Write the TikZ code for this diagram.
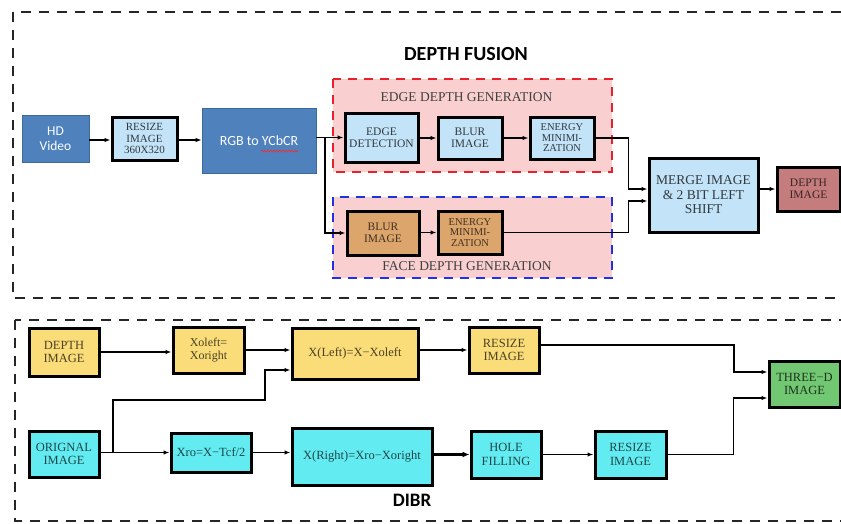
\documentclass[tikz,border=0pt]{standalone}
\usepackage{fontspec}
\setmainfont{Liberation Serif}
\newfontfamily\calfont{Carlito}
\usetikzlibrary{arrows.meta,calc,decorations.pathmorphing}
\definecolor{steel}{HTML}{4F81BD}
\definecolor{steeld}{HTML}{3D6A9E}
\definecolor{lblue}{HTML}{C3E4F8}
\definecolor{pinkbg}{HTML}{F9CFCF}
\definecolor{tan}{HTML}{DBA56C}
\definecolor{rosy}{HTML}{C47C7C}
\definecolor{yel}{HTML}{FADC78}
\definecolor{cyanb}{HTML}{62ECF2}
\definecolor{grn}{HTML}{72C872}
\definecolor{redd}{HTML}{E8202A}
\definecolor{blued}{HTML}{2230E0}
\tikzset{
  x=1pt, y=-1pt,
  boxbase/.style={draw=black, line width=3pt, rectangle, inner sep=1pt, align=center,
    font=\fontsize{11.5}{12}\selectfont},
  sbox/.style={draw=steeld, line width=0.8pt, fill=steel, text=white, align=center,
    font=\calfont\fontsize{13.5}{15}\selectfont, inner sep=1pt},
  lb/.style={boxbase, fill=lblue, text=lblue!25!black},
  tn/.style={boxbase, fill=tan, text=tan!30!black},
  rs/.style={boxbase, fill=rosy, text=rosy!30!black},
  yb/.style={boxbase, fill=yel, text=yel!30!black},
  cb/.style={boxbase, fill=cyanb, text=cyanb!30!black},
  gb/.style={boxbase, fill=grn, text=grn!25!black},
  arr/.style={line width=1.9pt, -{Latex[length=6pt,width=4.5pt]}},
  outer/.style={draw=black!85, line width=2.8pt, dash pattern=on 10pt off 8pt},
  grp/.style={line width=2.8pt, dash pattern=on 9pt off 7pt, fill=pinkbg},
  grptitle/.style={font=\fontsize{13.5}{14}\selectfont, text=black!75},
}
\begin{document}
\begin{tikzpicture}
\useasboundingbox (0,0) rectangle (841,523);
\clip (0,0) rectangle (841,523);
% outer dashed frames
\draw[outer] (13,12) rectangle (870,298);
\draw[outer] (15,320) rectangle (870,521);
\node[font=\calfont\bfseries\fontsize{20}{20}\selectfont] (t1) at (466,54) {DEPTH FUSION};
\node[font=\calfont\bfseries\fontsize{19}{19}\selectfont] (t2) at (412,500) {DIBR};
% group boxes
\draw[grp, draw=redd] (333,79) rectangle (612,172);
\draw[grp, draw=blued] (333,197) rectangle (612,278);
\node[grptitle] (g1) at (466.5,97) {EDGE DEPTH GENERATION};
\node[grptitle] (g2) at (467,266) {FACE DEPTH GENERATION};
% top nodes
\node[sbox, minimum width=67pt, minimum height=47pt] (hd) at (55.5,138.5) {HD\\Video};
\node[lb, minimum width=65pt, minimum height=43pt, font=\fontsize{11}{11.5}\selectfont] (rsz) at (144.5,138.5) {RESIZE\\IMAGE\\360X320};
\node[sbox, minimum width=114pt, minimum height=65pt, font=\calfont\fontsize{14}{15}\selectfont] (rgb) at (259,140.5) {RGB to YCbCR};
\draw[red!85, line width=0.6pt, decorate, decoration={snake, amplitude=0.9pt, segment length=3pt}]
  (261,151) -- (298,151);
\node[lb, minimum width=73pt, minimum height=49pt] (ed) at (381.5,137.5) {EDGE\\DETECTION};
\node[lb, minimum width=64pt, minimum height=42pt] (bl1) at (470,138) {BLUR\\IMAGE};
\node[lb, minimum width=64pt, minimum height=42pt, font=\fontsize{10.5}{10.5}\selectfont] (en1) at (562,138) {ENERGY\\MINIMI-\\ZATION};
\node[tn, minimum width=72pt, minimum height=44pt] (bl2) at (383,233) {BLUR\\IMAGE};
\node[tn, minimum width=64pt, minimum height=43pt, font=\fontsize{10.5}{10.5}\selectfont] (en2) at (470,232.5) {ENERGY\\MINIMI-\\ZATION};
\node[lb, minimum width=109pt, minimum height=74pt, font=\fontsize{13.5}{14.5}\selectfont] (mg) at (703.5,195) {MERGE IMAGE\\\& 2 BIT LEFT\\SHIFT};
\node[rs, minimum width=63pt, minimum height=44pt] (di) at (808.5,189) {DEPTH\\IMAGE};
% top connectors
\draw[arr] (hd.east |- 0,140) -- (rsz.west |- 0,140);
\draw[arr] (rsz.east |- 0,140) -- (rgb.west |- 0,140);
\draw[arr] (rgb.east |- ed.west) -- (ed.west);
\coordinate (br1) at (325,137.5);
\draw[arr] (br1) |- (bl2.west);
\draw[arr] (ed.east |- bl1.west) -- (bl1.west);
\draw[arr] (bl1.east) -- (en1.west);
\draw[arr] (en1.east) -- ++(33,0) |- ([yshift=6pt]mg.west);
\draw[arr] (en2.east) -- ++(125,0) |- ([yshift=-6pt]mg.west);
\draw[arr] (bl2.east |- en2.west) -- (en2.west);
\draw[arr] (mg.east |- di.west) -- (di.west);
% bottom nodes
\node[yb, minimum width=70pt, minimum height=48pt, font=\fontsize{12.5}{13.5}\selectfont] (dd) at (64,352) {DEPTH\\IMAGE};
\node[yb, minimum width=71pt, minimum height=46pt, font=\fontsize{12}{13}\selectfont] (xol) at (208.5,350) {Xoleft=\\Xoright};
\node[yb, minimum width=126pt, minimum height=51pt, font=\fontsize{12.5}{13.5}\selectfont] (xl) at (355,353.5) {X(Left)=X−Xoleft};
\node[yb, minimum width=70pt, minimum height=46pt, font=\fontsize{12.5}{13.5}\selectfont] (ry) at (504,350) {RESIZE\\IMAGE};
\node[gb, minimum width=71pt, minimum height=46pt, font=\fontsize{12.5}{13.5}\selectfont] (td) at (804.5,384) {THREE−D\\IMAGE};
\node[cb, minimum width=70pt, minimum height=46pt, font=\fontsize{12.5}{13.5}\selectfont] (oi) at (64,454) {ORIGNAL\\IMAGE};
\node[cb, minimum width=80pt, minimum height=39pt, font=\fontsize{12.5}{13.5}\selectfont] (xro) at (211,452.5) {Xro=X−Tcf/2};
\node[cb, minimum width=140pt, minimum height=57pt, font=\fontsize{12.5}{13.5}\selectfont] (xr) at (362,456.5) {X(Right)=Xro−Xoright};
\node[cb, minimum width=70pt, minimum height=47pt, font=\fontsize{12.5}{13.5}\selectfont] (hf) at (506,454.5) {HOLE\\FILLING};
\node[cb, minimum width=71pt, minimum height=47pt, font=\fontsize{12.5}{13.5}\selectfont] (rc) at (630.5,454.5) {RESIZE\\IMAGE};
% bottom connectors
\draw[arr] (dd.east) -- (dd.east -| xol.west);
\draw[arr] (xol.east) -- (xol.east -| xl.west);
\draw[arr] (oi.east |- xro.west) -- (xro.west);
\coordinate (br2) at (113,452.5);
\coordinate (k1) at (265,400);
\draw[arr] (br2) |- (k1) |- ([yshift=-16.5pt]xl.west);
\draw[arr] (xro.east) -- (xro.east -| xr.west);
\draw[line width=2.8pt, -{Latex[length=7pt,width=6pt]}] (xr.east |- hf.west) -- (hf.west);
\draw[arr] (hf.east) -- (rc.west);
\draw[arr] (xl.east |- ry.west) -- (ry.west);
\draw[arr] (ry.east |- 0,345) -- (734,345) |- ([yshift=12pt]td.west);
\draw[arr] (rc.east) -- ++(66,0) |- ([yshift=-14pt]td.west);
\end{tikzpicture}
\end{document}
